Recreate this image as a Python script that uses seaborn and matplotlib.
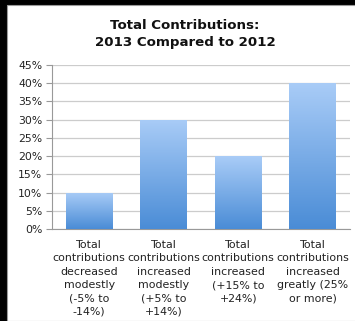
import matplotlib
matplotlib.use("Agg")
import matplotlib.pyplot as plt
import matplotlib.patches as mpatches
from matplotlib.colors import LinearSegmentedColormap
import numpy as np
import pandas as pd
import seaborn as sns

categories = [
    "Total\ncontributions\ndecreased\nmodestly\n(-5% to\n-14%)",
    "Total\ncontributions\nincreased\nmodestly\n(+5% to\n+14%)",
    "Total\ncontributions\nincreased\n(+15% to\n+24%)",
    "Total\ncontributions\nincreased\ngreatly (25%\nor more)",
]
shares = [0.10, 0.30, 0.20, 0.40]
y_ticks = [0, 0.05, 0.10, 0.15, 0.20, 0.25, 0.30, 0.35, 0.40, 0.45]
y_tick_labels = ["0%", "5%", "10%", "15%", "20%", "25%", "30%", "35%", "40%", "45%"]

df = pd.DataFrame({"category": categories, "share": shares})

sns.set_style("white")
plt.rcParams["font.family"] = ["DejaVu Sans"]

W, H = 355, 321
fig = plt.figure(figsize=(W / 100, H / 100), dpi=100)
fig.patch.set_facecolor("black")
# white canvas with a dark frame on the left and top
fig.add_artist(mpatches.Rectangle((7 / W, 0), 1, 1 - 5 / H, transform=fig.transFigure,
                                  facecolor="white", edgecolor="#9a9a9a", linewidth=0.8, zorder=0))

ax = fig.add_axes([52 / W, 1 - 229 / H, (350 - 52) / W, (229 - 65) / H])
ax.set_facecolor("none")

sns.barplot(data=df, x="category", y="share", ax=ax, width=0.63, color="#6fa3e6",
            edgecolor="none", zorder=3)

grad = LinearSegmentedColormap.from_list("bar", ["#4a8cd6", "#a9ccf7"])
gimg = np.linspace(0, 1, 256).reshape(-1, 1)
for p in ax.patches:
    x0, y0 = p.get_x(), p.get_y()
    w, h = p.get_width(), p.get_height()
    p.set_facecolor("none")
    im = ax.imshow(gimg, cmap=grad, origin="lower", aspect="auto",
                   extent=(x0, x0 + w, y0, y0 + h), zorder=3)
    im.set_clip_path(p)

ax.set_xlim(-0.5, 3.5)
ax.set_ylim(0, 0.45)
ax.set_yticks(y_ticks)
ax.set_yticklabels(y_tick_labels, fontsize=7.8, color="#222222")
ax.yaxis.grid(True, color="#cccccc", linewidth=0.9, zorder=0)
ax.set_axisbelow(True)

ax.set_xticks(range(len(categories)))
ax.set_xticklabels(categories, fontsize=7.9, color="#222222", linespacing=1.42, va="top")
ax.set_xticks([-0.5, 0.5, 1.5, 2.5, 3.5], minor=True)
ax.tick_params(axis="x", which="major", length=0, pad=8)
ax.tick_params(axis="x", which="minor", length=4, color="#999999", width=0.8, direction="out")
ax.tick_params(axis="y", length=4, color="#999999", width=0.8, direction="out", pad=3, left=True)
ax.set_xlabel("")
ax.set_ylabel("")

for side in ("top", "right"):
    ax.spines[side].set_visible(False)
for side in ("left", "bottom"):
    ax.spines[side].set_color("#999999")
    ax.spines[side].set_linewidth(0.8)

fig.text(185 / W, 1 - 34 / H, "Total Contributions:\n2013 Compared to 2012",
         ha="center", va="center", fontsize=9.6, fontweight="bold", color="#111111",
         linespacing=1.45)

fig.savefig("out.png", dpi=100, facecolor=fig.get_facecolor())
